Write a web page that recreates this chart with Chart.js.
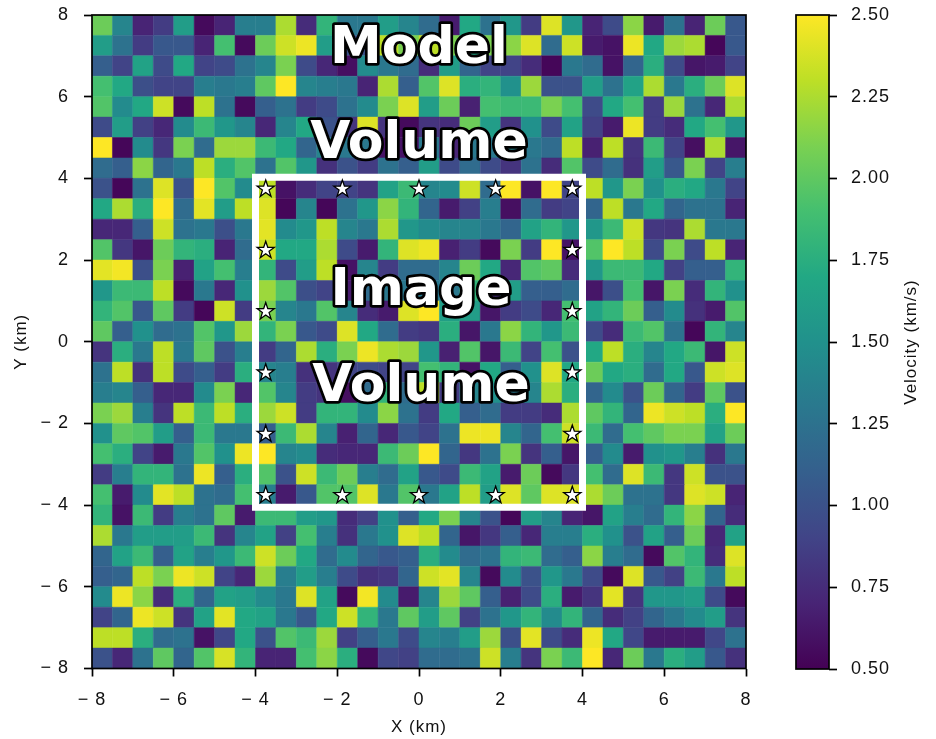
<!DOCTYPE html>
<html><head><meta charset="utf-8">
<style>html,body{margin:0;padding:0;background:#fff;width:936px;height:739px;overflow:hidden}
.w{position:absolute;top:0}#a{left:0;width:755px;height:739px}#b{left:780px;width:156px;height:739px}</style>
<script src="https://cdn.jsdelivr.net/npm/chart.js@4"></script></head><body>
<div class="w" id="a"><canvas id="c1"></canvas></div><div class="w" id="b"><canvas id="c2"></canvas></div>
<script>
const xCenters=[-7.75,-7.25,-6.75,-6.25,-5.75,-5.25,-4.75,-4.25,-3.75,-3.25,-2.75,-2.25,-1.75,-1.25,-0.75,-0.25,0.25,0.75,1.25,1.75,2.25,2.75,3.25,3.75,4.25,4.75,5.25,5.75,6.25,6.75,7.25,7.75];
const yCenters=[7.75,7.25,6.75,6.25,5.75,5.25,4.75,4.25,3.75,3.25,2.75,2.25,1.75,1.25,0.75,0.25,-0.25,-0.75,-1.25,-1.75,-2.25,-2.75,-3.25,-3.75,-4.25,-4.75,-5.25,-5.75,-6.25,-6.75,-7.25,-7.75];
const r0=[2.05,1.4,.7,.85,1.6,.55,.7,1.35,1.35,2.25,.75,1.8,1.3,1.3,1.6,1.4,1.2,.65,1.7,1.25,1.55,.85,2.4,1.55,.7,.95,2.15,.65,1.25,.7,2.05,1.05];
const r1=[1.6,1.25,.85,1.05,1.05,.7,1.9,.55,2.05,2.35,2.45,1.6,1.0,1.0,2.3,2.1,2.3,2.1,1.7,2.1,2.15,2.4,1.2,2.35,.65,.6,2.45,1.7,2.2,2.25,.53,1.05];
const r2=[1.1,.9,1.65,.95,1.7,.9,.95,1.25,1.4,2.1,.95,.72,.58,1.45,1.3,1.2,.75,1.6,1.15,.9,.9,.75,.53,1.3,1.2,.6,1.15,1.75,.95,.62,.65,.9];
const r3=[1.9,1.7,.98,.9,.9,1.35,1.3,1.35,2.0,2.5,1.4,1.35,1.3,.7,2.25,1.1,1.95,2.4,1.75,1.8,1.5,2.2,1.0,1.0,1.6,1.25,1.65,2.25,1.3,1.75,2.05,2.4];
const r4=[1.95,1.45,1.7,2.35,.55,2.3,1.25,.55,1.1,1.25,.85,.95,1.25,1.45,2.1,2.4,1.6,2.05,.68,1.9,1.85,1.85,2.1,1.9,.95,1.7,1.9,.85,2.2,1.25,.72,2.25];
const r5=[.95,1.6,.88,.72,1.45,1.85,1.55,1.4,.72,1.4,1.7,1.0,.8,2.4,.8,.55,.8,.75,2.05,1.6,.8,1.5,.95,1.65,.88,.65,2.45,.85,.75,1.7,1.9,1.55];
const r6=[2.5,.53,1.45,.82,2.1,1.2,2.2,2.2,1.85,1.7,1.15,1.4,1.3,1.3,.6,.6,1.3,.7,1.3,1.3,1.4,1.3,1.2,2.3,.68,2.3,.8,1.85,.9,.58,2.25,.62];
const r7=[1.2,1.1,2.15,1.15,1.3,2.3,1.75,1.95,1.25,1.95,1.55,.78,1.0,.85,1.25,1.1,1.6,.95,1.2,.95,.8,1.25,.75,1.95,.95,1.2,.78,1.6,1.05,2.1,.9,1.35];
const r8=[1.0,.53,1.25,2.4,1.0,2.5,1.95,1.45,2.3,.6,.75,.9,.9,.8,1.65,1.85,1.4,1.45,2.35,1.2,2.5,.6,2.5,.9,2.3,1.55,2.1,1.5,1.75,1.7,1.3,.9];
const r9=[1.7,2.25,1.75,2.5,1.2,2.42,1.6,2.3,2.4,.53,1.4,.53,1.25,1.55,2.15,1.8,1.15,.65,.88,1.35,.58,1.2,.85,.9,1.15,2.3,1.3,1.7,1.15,1.25,1.25,.7];
const r10=[.72,.72,1.1,2.35,1.25,1.3,.98,1.3,2.42,1.45,1.55,2.3,1.4,1.3,2.25,1.55,1.45,1.4,1.4,1.3,1.15,1.65,1.8,1.55,1.55,1.85,2.35,.82,.8,2.25,1.3,1.3];
const r11=[1.95,.82,.62,2.05,1.8,1.75,.7,1.2,2.35,1.7,1.7,2.25,.95,.65,1.8,2.4,2.45,.68,.85,.55,2.1,.85,2.5,.6,1.95,2.5,2.3,.95,2.1,.95,2.3,.7];
const r12=[2.42,2.47,.98,2.1,.68,1.65,1.9,1.35,1.8,.95,1.6,2.3,.6,1.4,.85,1.2,1.2,1.4,2.05,1.7,.72,1.95,2.0,.75,1.55,1.85,1.85,1.7,.88,1.1,1.1,1.8];
const r13=[1.55,1.85,1.85,2.3,.55,1.3,.72,1.5,2.2,1.95,.98,.9,.65,1.2,1.3,1.3,1.3,1.3,1.8,.75,1.6,1.1,1.1,1.2,.62,.98,1.9,.62,2.1,.75,1.8,1.5];
const r14=[1.8,1.95,1.05,2.0,.85,.53,2.35,.85,2.1,1.4,1.3,1.95,1.4,.75,.65,2.4,2.5,1.6,1.6,.62,.85,.95,.72,1.9,1.65,1.8,2.05,1.1,1.45,.78,.65,1.95];
const r15=[2.0,1.1,1.5,1.2,1.25,1.95,1.55,2.2,1.8,2.1,1.05,.95,2.4,1.7,1.2,.85,.82,1.75,.62,1.3,2.15,1.8,1.55,1.85,.95,.75,1.85,1.95,1.25,.53,1.8,1.4];
const r16=[.8,1.75,1.3,2.3,1.3,2.0,1.0,1.35,.85,1.15,2.25,1.75,2.1,2.45,2.25,2.2,1.55,.68,1.95,.62,1.85,.9,1.9,1.0,1.7,2.3,1.75,1.4,1.7,1.85,.62,2.35];
const r17=[1.25,2.3,.78,2.3,.95,1.1,.85,1.75,1.4,1.35,.78,.8,.9,.95,.9,.9,1.9,1.8,.6,1.7,1.1,1.5,2.4,1.7,2.05,1.7,1.75,1.2,1.7,1.05,2.35,2.4];
const r18=[1.35,1.4,1.1,.72,.72,1.45,2.1,.72,1.95,1.4,.85,.8,.58,1.2,1.8,1.2,2.3,.85,1.4,1.5,1.3,1.4,2.25,1.75,1.15,1.45,1.0,2.05,1.15,.85,2.0,1.0];
const r19=[2.1,2.2,1.35,.8,2.3,1.85,2.3,1.75,2.2,2.35,.85,1.8,1.8,1.45,2.15,1.25,.85,1.7,1.1,1.2,.85,.85,.75,2.25,2.0,1.8,1.15,2.45,2.35,2.3,1.75,2.5];
const r20=[1.5,2.0,1.95,1.6,1.1,1.85,1.3,1.3,1.1,1.85,2.25,1.4,.68,1.15,.72,1.05,.9,1.25,2.45,2.45,1.4,1.15,1.9,2.35,1.85,1.2,1.9,2.0,2.1,2.1,1.65,2.05];
const r21=[1.9,1.75,.9,.65,1.3,1.95,1.5,2.45,2.5,1.4,1.45,.75,.72,.72,1.85,2.05,2.5,1.15,.82,1.25,2.1,.8,1.1,.62,1.1,1.45,.65,1.5,1.55,1.35,.78,1.3];
const r22=[.85,1.35,1.8,1.8,1.25,2.45,1.1,1.75,1.95,1.0,2.35,1.85,2.05,1.35,1.2,1.65,1.05,.95,1.85,1.65,.65,2.05,.55,.82,1.9,1.2,2.4,1.85,.82,2.35,1.0,1.0];
const r23=[1.9,.65,1.45,2.42,2.3,1.25,1.2,1.9,1.35,.65,1.05,1.95,1.95,2.4,1.3,1.95,1.3,1.65,2.3,1.6,2.4,2.0,2.4,2.4,2.25,2.05,1.25,1.25,.82,2.4,2.35,.7];
const r24=[1.8,.6,1.85,.85,1.35,1.25,2.0,.65,1.85,1.85,1.6,1.55,.75,.88,1.5,1.1,1.7,2.1,1.4,1.0,.53,1.6,1.4,.7,.62,1.65,1.35,1.2,1.8,2.15,1.15,.75];
const r25=[2.25,1.3,1.6,1.6,1.6,1.85,.8,1.4,1.65,.88,1.9,1.35,.78,1.3,1.5,2.4,2.3,1.15,.62,.82,1.1,.72,1.35,1.35,1.75,1.5,1.0,1.65,1.1,2.05,.72,1.65];
const r26=[1.15,1.65,1.85,1.1,1.65,1.35,1.55,1.85,2.35,2.05,1.7,1.2,1.45,1.15,1.05,1.1,1.75,1.45,1.2,1.25,1.8,1.85,1.2,1.1,2.15,1.35,1.2,.55,1.95,1.8,.75,2.4];
const r27=[1.1,1.15,2.3,2.1,2.45,2.35,.9,.72,2.2,1.35,1.6,1.35,.95,.78,.82,1.15,2.35,2.42,1.4,.55,1.45,1.0,1.55,1.3,.95,.55,2.4,1.05,.88,1.85,1.3,2.3];
const r28=[1.45,2.45,2.15,.75,1.75,1.15,1.65,1.6,1.45,1.3,2.4,1.65,.55,2.47,1.45,.65,1.4,2.2,2.0,1.1,.68,.95,1.75,.65,.8,2.42,.8,1.55,1.55,1.6,.95,.55];
const r29=[.9,1.15,2.45,2.35,.8,1.65,2.42,1.7,1.65,1.3,1.05,1.7,2.35,1.8,1.3,2.0,1.6,2.0,.88,1.25,1.55,1.8,1.45,1.8,1.15,.75,.88,1.15,1.3,1.45,1.6,.8];
const r30=[2.3,2.3,1.75,1.2,1.25,.6,.92,1.7,1.0,1.95,1.85,2.2,.88,1.1,1.3,.95,1.4,1.35,1.6,2.2,.98,2.42,.95,.75,2.45,1.7,.92,.65,.65,.65,.92,1.25];
const r31=[1.0,.72,1.25,2.0,1.15,1.95,2.38,1.8,.7,.7,1.9,2.15,1.75,.55,.92,.88,1.2,1.2,1.25,2.35,1.35,.8,2.1,1.85,2.5,.72,2.05,1.3,1.75,1.6,1.05,.78];
const grid=[r0,r1,r2,r3,r4,r5,r6,r7,r8,r9,r10,r11,r12,r13,r14,r15,r16,r17,r18,r19,r20,r21,r22,r23,r24,r25,r26,r27,r28,r29,r30,r31];
const starX=[-3.75,-1.875,0,1.875,3.75,-3.75,3.75,-3.75,3.75,-3.75,3.75,-3.75,3.75,-3.75,-1.875,0,1.875,3.75];
const starY=[3.75,3.75,3.75,3.75,3.75,2.25,2.25,0.75,0.75,-0.75,-0.75,-2.25,-2.25,-3.75,-3.75,-3.75,-3.75,-3.75];
const boxX=[-4,4,4,-4,-4];
const boxY=[4.03,4.03,-4.05,-4.05,4.03];
const overlayLabels=["Model","Volume","Image","Volume"];
const overlayX=[0,0,0.05,0.05];
const overlayY=[6.83,4.49,0.89,-1.46];
const axisTicks=[-8,-6,-4,-2,0,2,4,6,8];
const colorTicks=[0.5,0.75,1,1.25,1.5,1.75,2,2.25,2.5];
const viridis=["#440154","#482475","#414487","#355f8d","#2a788e","#21918c","#22a884","#44bf70","#7ad151","#bddf26","#fde725"];
const vMin=0.5,vMax=2.5;
const colorbarTitle="Velocity (km/s)";
const FONT="'Liberation Sans',Arial,sans-serif";

function hexRgb(h){return [1,3,5].map(i=>parseInt(h.substr(i,2),16));}
function colorOf(v){
  const t=Math.min(1,Math.max(0,(v-vMin)/(vMax-vMin)))*(viridis.length-1);
  const i=Math.min(viridis.length-2,Math.floor(t)),f=t-i;
  const a=hexRgb(viridis[i]),b=hexRgb(viridis[i+1]);
  return `rgb(${a.map((c,k)=>Math.round(c+(b[k]-c)*f)).join(',')})`;
}
const heat=[],heatColors=[];
grid.forEach((row,j)=>row.forEach((v,i)=>{heat.push({x:xCenters[i],y:yCenters[j]});heatColors.push(colorOf(v));}));

const spacing={id:'spacing',beforeLayout(c){c.ctx.letterSpacing='1px';},beforeDraw(c){c.ctx.letterSpacing='1px';}};
const frame={id:'frame',afterDatasetsDraw(c){
  const {ctx,chartArea:a}=c;ctx.save();ctx.strokeStyle='#000';ctx.lineWidth=1.7;ctx.strokeRect(a.left,a.top,a.right-a.left,a.bottom-a.top);ctx.restore();
}};
const stars={id:'stars',afterDatasetsDraw(c){
  const {ctx}=c;ctx.save();
  c.getDatasetMeta(0).data.forEach(p=>{
    ctx.beginPath();
    const R=9,r=R*0.39,cx=p.x,cy=p.y+0.4;
    for(let i=0;i<10;i++){const a=-Math.PI/2+i*Math.PI/5,q=i%2?r:R;ctx.lineTo(cx+q*Math.cos(a),cy+q*Math.sin(a));}
    ctx.closePath();ctx.fillStyle='#fff';ctx.fill();ctx.lineWidth=1.3;ctx.lineJoin='miter';ctx.strokeStyle='#000';ctx.stroke();
  });ctx.restore();
}};
const overlay={id:'overlay',afterDatasetsDraw(c){
  const {ctx,scales:{x,y}}=c;ctx.save();ctx.letterSpacing='0px';
  ctx.font="bold 52px 'DejaVu Sans'";ctx.textAlign='center';ctx.textBaseline='alphabetic';ctx.lineJoin='round';
  overlayLabels.forEach((t,i)=>{
    const px=x.getPixelForValue(overlayX[i]),py=y.getPixelForValue(overlayY[i]);
    ctx.lineWidth=5.5;ctx.strokeStyle='#000';ctx.strokeText(t,px,py);
    ctx.fillStyle='#fff';ctx.fillText(t,px,py);
  });ctx.restore();
}};
const cbTitle={id:'cbTitle',afterDraw(c){
  const {ctx,chartArea:a}=c;ctx.save();ctx.letterSpacing='1px';
  ctx.translate(131,(a.top+a.bottom)/2);ctx.rotate(-Math.PI/2);
  ctx.font=`17px ${FONT}`;ctx.fillStyle='#111';ctx.textAlign='center';ctx.textBaseline='middle';
  ctx.fillText(colorbarTitle,0,0);ctx.restore();
}};
const noOverhang=s=>{s.paddingLeft=s.paddingRight=s.paddingTop=s.paddingBottom=0;};
const tickFmt=v=>v<0?'\u2212 '+Math.abs(v):String(v);
const axisOpts=(title,pad,titleTop)=>({type:'linear',min:-8,max:8,
  afterBuildTicks:s=>{s.ticks=axisTicks.map(v=>({value:v}));},
  grid:{drawOnChartArea:false,drawTicks:true,tickLength:8,tickWidth:1.7,tickColor:'#000'},
  border:{display:false},
  ticks:{color:'#111',font:{family:FONT,size:18},padding:pad,maxRotation:0,autoSkip:false,callback:tickFmt},
  title:{display:true,text:title,color:'#111',font:{family:FONT,size:17},padding:{top:titleTop,bottom:1}}});
const xa=axisOpts('X (km)',13,5),ya=axisOpts('Y (km)',15,11);
xa.afterFit=s=>{s.height=70.5;noOverhang(s);};ya.afterFit=s=>{s.width=92;noOverhang(s);};

Chart.defaults.animation=false;
new Chart(document.getElementById('c1'),{type:'scatter',
  data:{datasets:[
    {label:'stations',order:0,data:starX.map((v,i)=>({x:v,y:starY[i]})),pointRadius:0},
    {label:'image volume',order:1,data:boxX.map((v,i)=>({x:v,y:boxY[i]})),showLine:true,borderColor:'#fff',borderWidth:7,borderJoinStyle:'miter',borderCapStyle:'square',pointRadius:0,tension:0},
    {label:'velocity',order:2,data:heat,pointStyle:'rect',
     pointRadius:c=>{const s=c.chart.scales.x;return Math.abs(s.getPixelForValue(0.5)-s.getPixelForValue(0))*Math.SQRT1_2;},
     backgroundColor:heatColors,borderColor:heatColors,pointBackgroundColor:heatColors,pointBorderColor:heatColors,pointBorderWidth:0.5}
  ]},
  options:{responsive:true,maintainAspectRatio:false,events:[],animation:false,
    layout:{padding:{top:15,right:9,left:0,bottom:0}},
    plugins:{legend:{display:false},tooltip:{enabled:false}},
    scales:{x:xa,y:ya}},
  plugins:[spacing,stars,overlay,frame]});

new Chart(document.getElementById('c2'),{type:'bar',
  data:{labels:['velocity'],datasets:[{data:[[vMin,vMax]],barPercentage:1,categoryPercentage:1,borderWidth:0,
    backgroundColor:c=>{const a=c.chart.chartArea;if(!a)return viridis[5];
      const g=c.chart.ctx.createLinearGradient(0,a.bottom,0,a.top);viridis.forEach((h,i)=>g.addColorStop(i/(viridis.length-1),h));return g;}}]},
  options:{responsive:true,maintainAspectRatio:false,events:[],animation:false,
    layout:{padding:{top:15,left:16,right:0,bottom:70}},
    plugins:{legend:{display:false},tooltip:{enabled:false}},
    scales:{
      x:{display:false},
      y:{type:'linear',position:'right',min:vMin,max:vMax,
        afterFit:s=>{s.width=107;noOverhang(s);},
        afterBuildTicks:s=>{s.ticks=colorTicks.map(v=>({value:v}));},
        grid:{drawOnChartArea:false,drawTicks:true,tickLength:8,tickWidth:1.7,tickColor:'#000'},
        border:{display:false},
        ticks:{color:'#111',font:{family:FONT,size:18},padding:14,autoSkip:false,callback:v=>v.toFixed(2)}}
    }},
  plugins:[spacing,frame,cbTitle]});
</script></body></html>
